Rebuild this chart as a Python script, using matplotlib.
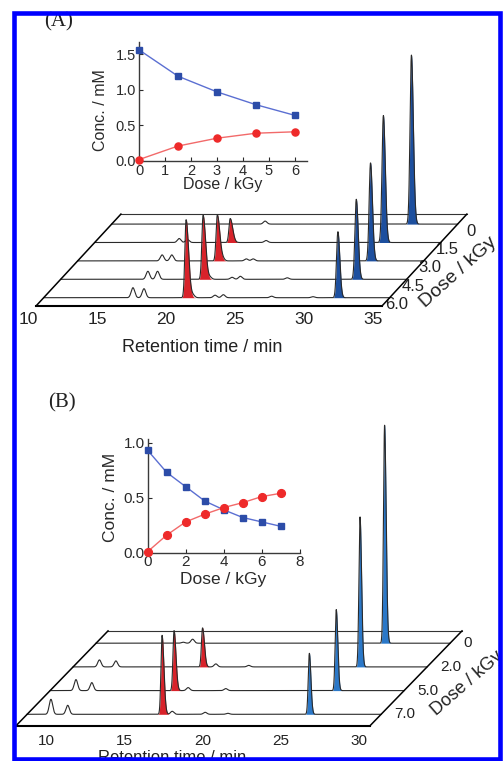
import numpy as np
import matplotlib.pyplot as plt
from matplotlib.transforms import Affine2D
from matplotlib.patches import Rectangle

plt.rcParams['font.family'] = ['Liberation Sans', 'DejaVu Sans']

W, H = 504, 761

RED = '#d8222a'
TRACE = '#2a2a2a'

# ---------------- panel A chromatograms (rows listed back -> front)
dose_a = ["0", "1.5", "3.0", "4.5", "6.0"]
sub_rt_a = [32.3, 31.5, 31.8, 32.0, 31.9]
sub_h_a = [169, 127, 98, 80, 66]
prod_rt_a = [20.6, 20.4, 20.7, 20.9, 20.9]
prod_h_a = [0, 24, 46, 64, 78]
minor_a = [
    [(21.7, 3)],
    [(16.7, 4), (17.3, 3), (23.0, 2)],
    [(16.7, 6), (17.4, 6), (21.1, 2), (22.8, 2), (23.3, 2)],
    [(16.9, 8), (17.6, 8), (21.4, 2), (23.0, 2), (23.6, 3), (27.0, 1.5)],
    [(17.05, 10), (17.85, 9), (21.4, 2.5), (23.0, 2.5), (23.6, 3), (27.1, 1.5), (30.1, 1)],
]
ticks_a = [10, 15, 20, 25, 30, 35]

# ---------------- panel A inset
inset_dose_a = [0, 1.5, 3.0, 4.5, 6.0]
inset_sub_a = [1.56, 1.19, 0.97, 0.79, 0.64]
inset_prod_a = [0.02, 0.21, 0.32, 0.39, 0.41]

# ---------------- panel B chromatograms (rows listed back -> front)
dose_b = ["0", "2.0", "5.0", "7.0"]
sub_rt_b = [26.5, 26.4, 26.35, 26.1]
sub_h_b = [218, 150, 81, 61]
prod_rt_b = [16.4, 16.35, 16.0, 16.7]
prod_h_b = [0, 39, 60, 79]
minor_b = [
    [(13.65, 1), (14.25, 4)],
    [(9.77, 7), (10.82, 6), (17.2, 3), (19.3, 1.5)],
    [(9.74, 11), (10.75, 8), (16.9, 3), (19.3, 2)],
    [(9.61, 15), (10.68, 9), (17.35, 3), (19.45, 2), (20.9, 1)],
]
ticks_b = [10, 15, 20, 25, 30]

# ---------------- panel B inset
inset_dose_b = [0, 1, 2, 3, 4, 5, 6, 7]
inset_sub_b = [0.93, 0.73, 0.60, 0.47, 0.39, 0.32, 0.28, 0.24]
inset_prod_b = [0.01, 0.16, 0.28, 0.35, 0.41, 0.455, 0.51, 0.54]


def px_axes(fig, left, top, right, bottom):
    return fig.add_axes([left / W, 1 - bottom / H, (right - left) / W, (bottom - top) / H])


def peak(t, rt, h, sl, sr):
    s = np.where(t < rt, sl, sr)
    return h * np.exp(-0.5 * ((t - rt) / s) ** 2)


def waterfall(ax, t_lim, depths, back, skew, sub_rt, sub_h, prod_rt, prod_h, minor,
              sub_color, sub_sig, prod_sig, minor_sig):
    t0, t1 = t_lim
    t = np.arange(t0, t1, 0.004)
    for i, d in enumerate(depths):
        tr = Affine2D().translate(d * skew, d) + ax.transData
        z = 3 + i
        y = np.zeros_like(t)
        for rt, h in minor[i]:
            y += peak(t, rt, h, minor_sig, minor_sig)
        for rt, h, col, sg in [(sub_rt[i], sub_h[i], sub_color, sub_sig),
                               (prod_rt[i], prod_h[i], RED, prod_sig)]:
            if h <= 0:
                continue
            p = peak(t, rt, h, *sg)
            y += p
            m = (t > rt - 5 * sg[0]) & (t < rt + 5 * sg[1])
            ax.fill_between(t[m], 0, p[m], color=col, lw=0, transform=tr, zorder=z)
        ax.plot(t, y, color=TRACE, lw=0.8, transform=tr, zorder=z + 0.5)
    # floor outline
    bs = back * skew
    ax.plot([t0, t1], [0, 0], color='k', lw=1.5, zorder=20)
    ax.plot([t0, t0 + bs], [0, back], color='k', lw=1.1, zorder=20)
    ax.plot([t1, t1 + bs], [0, back], color='k', lw=1.1, zorder=20)
    ax.plot([t0 + bs, t1 + bs], [back, back], color='#333333', lw=0.8, zorder=2)


def inset(fig, rect, dose, sub, prod, xlim, ylim, xticks, yticks, lab_xy, fs_tick, fs_lab, ms):
    ax = px_axes(fig, *rect)
    ax.set_facecolor('none')
    ax.plot(dose, sub, color='#5b6fd2', lw=1.0, zorder=3, clip_on=False)
    ax.plot(dose, sub, 's', color='#2c4ca8', ms=ms, zorder=4, clip_on=False)
    ax.plot(dose, prod, color='#f26a6a', lw=1.0, zorder=3, clip_on=False)
    ax.plot(dose, prod, 'o', color='#ee2a2a', ms=ms + 0.6, zorder=4, clip_on=False)
    ax.set_xlim(*xlim)
    ax.set_ylim(*ylim)
    ax.set_xticks(xticks)
    ax.set_yticks(yticks)
    ax.set_yticklabels([f"{v:.1f}" for v in yticks])
    for s in ['top', 'right']:
        ax.spines[s].set_visible(False)
    for s in ['left', 'bottom']:
        ax.spines[s].set_color('#3a3a3a')
        ax.spines[s].set_linewidth(1.0)
    ax.tick_params(direction='in', length=3, width=0.8, pad=2, labelsize=fs_tick, colors='#2a2a2a')
    ax.set_xlabel('Dose / kGy', fontsize=fs_lab, color='#2a2a2a')
    ax.set_ylabel('Conc. / mM', fontsize=fs_lab, color='#2a2a2a')
    ax.xaxis.set_label_coords(*lab_xy[0])
    ax.yaxis.set_label_coords(*lab_xy[1])
    ax.xaxis.label.set_verticalalignment('center')
    ax.yaxis.label.set_verticalalignment('center')
    return ax


fig = plt.figure(figsize=(W / 100, H / 100), dpi=100)

# ---------------- panel A main
axA = px_axes(fig, 16, 15, 498, 340)
axA.axis('off')
axA.set_xlim(10 + (16 - 28) / 13.8, 10 + (498 - 28) / 13.8)
axA.set_ylim(306 - 340, 306 - 15)
gap_a, front_a = 18.4, 8.3
depth_a = [front_a + gap_a * k for k in range(len(dose_a))][::-1]
back_a = depth_a[0] + 10
skew_a = 0.924 / 13.8
tl_a = (10.58, 35.65)
waterfall(axA, tl_a, depth_a, back_a, skew_a, sub_rt_a, sub_h_a, prod_rt_a, prod_h_a, minor_a,
          '#1d4f9e', (0.1, 0.14), (0.09, 0.18), 0.13)
for tk in ticks_a:
    axA.text(tk, -14, str(tk), ha='center', va='center', fontsize=12.5, color='#222222')
for lab, d in zip(dose_a, depth_a):
    axA.annotate(lab, (tl_a[1] + d * skew_a, d), xytext=(13, -5), textcoords='offset points',
                 ha='right', va='center', fontsize=12, color='#222222')
fig.text(425 / W, 1 - 308 / H, 'Dose / kGy', rotation=42, rotation_mode='anchor',
         ha='left', va='baseline', fontsize=14, color='#222222')
fig.text(202 / W, 1 - 348 / H, 'Retention time / min', ha='center', va='center',
         fontsize=13, color='#222222')

inset(fig, (139, 42, 306.7, 161), inset_dose_a, inset_sub_a, inset_prod_a,
      (0, 6.45), (0, 1.67), [0, 1, 2, 3, 4, 5, 6], [0.0, 0.5, 1.0, 1.5],
      ((0.499, -0.20), (-0.232, 0.43)), 10.5, 11.5, 4.5)

# ---------------- panel B main
axB = px_axes(fig, 16, 390, 498, 761)
axB.axis('off')
axB.set_xlim(10 + (16 - 46) / 15.67, 10 + (498 - 46) / 15.67)
axB.set_ylim(725.7 - 761, 725.7 - 390)
gap_b, front_b = 23.7, 11.4
depth_b = [front_b + gap_b * k for k in range(len(dose_b))][::-1]
back_b = depth_b[0] + 12.3
skew_b = 0.97 / 15.67
tl_b = (8.09, 30.68)
waterfall(axB, tl_b, depth_b, back_b, skew_b, sub_rt_b, sub_h_b, prod_rt_b, prod_h_b, minor_b,
          '#2b78c8', (0.07, 0.10), (0.07, 0.12), 0.11)
for tk in ticks_b:
    axB.text(tk, -15, str(tk), ha='center', va='center', fontsize=11, color='#222222')
for lab, d in zip(dose_b, depth_b):
    axB.annotate(lab, (tl_b[1] + d * skew_b, d), xytext=(9.4, 0), textcoords='offset points',
                 ha='left', va='center', fontsize=11, color='#222222')
fig.text(436 / W, 1 - 716 / H, 'Dose / kGy', rotation=41, rotation_mode='anchor',
         ha='left', va='baseline', fontsize=13, color='#222222')
fig.text(172.5 / W, 1 - 758 / H, 'Retention time / min', ha='center', va='center',
         fontsize=12, color='#222222')

inset(fig, (147.7, 439.4, 299.7, 552.7), inset_dose_b, inset_sub_b, inset_prod_b,
      (0, 8), (0, 1.03), [0, 2, 4, 6, 8], [0.0, 0.5, 1.0],
      ((0.495, -0.24), (-0.248, 0.49)), 11, 12.5, 5)

# panel letters
fig.text(59 / W, 1 - 22 / H, '(A)', ha='center', va='center', fontsize=15,
         family=['Liberation Serif', 'DejaVu Serif'], color='#222222')
fig.text(62 / W, 1 - 403 / H, '(B)', ha='center', va='center', fontsize=15,
         family=['Liberation Serif', 'DejaVu Serif'], color='#222222')

# blue frame
fig.patches.append(Rectangle((13.5 / W, 1 - 759 / H), (499.5 - 13.5) / W, (759 - 12.5) / H,
                             transform=fig.transFigure, fill=False, ec='#0000ff', lw=3.3,
                             zorder=50))

fig.savefig('out.png', dpi=100)
